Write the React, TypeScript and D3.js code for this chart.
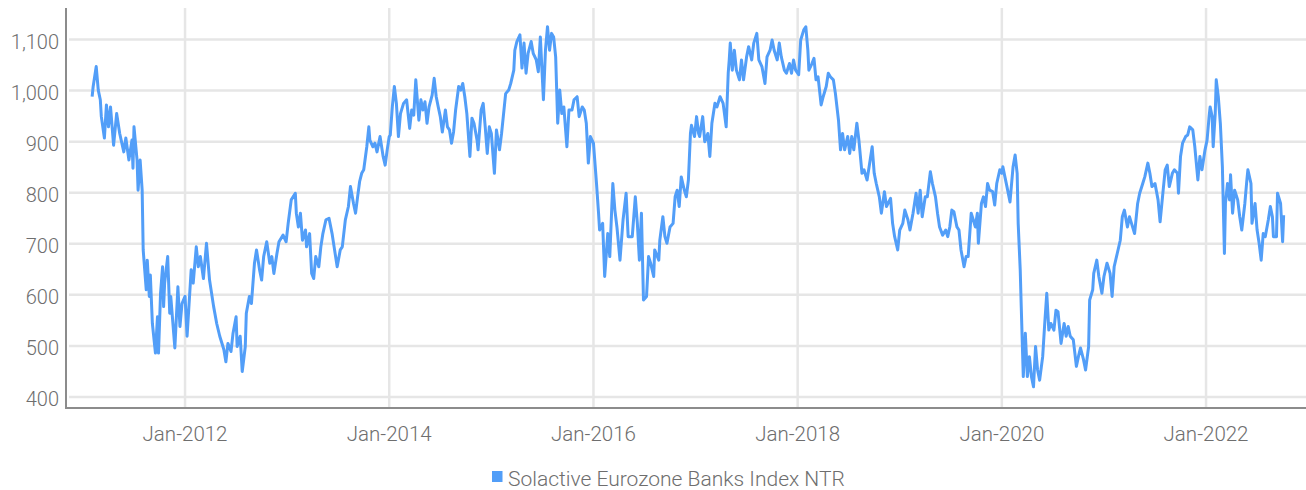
import React, { useRef, useEffect } from "react";
import * as d3 from "d3";

// [decimal year, index level]
const indexPoints: [number, number][] = [
  [2011.09, 988], [2011.10, 1008], [2011.13, 1047], [2011.15, 1001], [2011.17, 982], [2011.18, 949],
  [2011.21, 907], [2011.23, 972], [2011.25, 929], [2011.27, 968], [2011.30, 893], [2011.33, 955],
  [2011.36, 916], [2011.40, 880], [2011.42, 907], [2011.45, 864], [2011.48, 903], [2011.49, 848],
  [2011.50, 929], [2011.53, 864], [2011.54, 805], [2011.56, 864], [2011.58, 805], [2011.59, 688],
  [2011.62, 610], [2011.63, 668], [2011.65, 597], [2011.66, 639], [2011.68, 544], [2011.71, 486],
  [2011.73, 557], [2011.74, 486], [2011.76, 603], [2011.78, 655], [2011.79, 577], [2011.80, 623],
  [2011.83, 675], [2011.85, 564], [2011.86, 597], [2011.90, 496], [2011.93, 616], [2011.95, 538],
  [2011.97, 583], [2012.00, 597], [2012.02, 519], [2012.06, 649], [2012.08, 623], [2012.11, 694],
  [2012.13, 655], [2012.15, 675], [2012.18, 632], [2012.21, 701], [2012.24, 629], [2012.28, 577],
  [2012.31, 544], [2012.34, 519], [2012.38, 493], [2012.40, 469], [2012.42, 505], [2012.45, 489],
  [2012.47, 525], [2012.50, 557], [2012.51, 499], [2012.54, 519], [2012.56, 450], [2012.59, 499],
  [2012.60, 564], [2012.63, 597], [2012.65, 583], [2012.68, 662], [2012.70, 688], [2012.73, 649],
  [2012.75, 629], [2012.77, 675], [2012.80, 704], [2012.83, 662], [2012.85, 675], [2012.87, 642],
  [2012.90, 681], [2012.92, 704], [2012.96, 717], [2012.99, 704], [2013.01, 740], [2013.04, 786],
  [2013.08, 799], [2013.09, 760], [2013.11, 733], [2013.13, 760], [2013.15, 707], [2013.18, 727],
  [2013.19, 694], [2013.22, 720], [2013.24, 642], [2013.26, 632], [2013.28, 675], [2013.31, 655],
  [2013.33, 694], [2013.35, 720], [2013.38, 747], [2013.41, 750], [2013.44, 720], [2013.46, 694],
  [2013.49, 655], [2013.52, 688], [2013.54, 694], [2013.57, 747], [2013.60, 773], [2013.62, 812],
  [2013.65, 779], [2013.67, 760], [2013.69, 792], [2013.71, 822], [2013.73, 838], [2013.75, 845],
  [2013.78, 890], [2013.80, 929], [2013.81, 903], [2013.84, 890], [2013.86, 897], [2013.88, 880],
  [2013.91, 910], [2013.94, 871], [2013.96, 854], [2013.98, 884], [2014.00, 910], [2014.01, 913],
  [2014.03, 968], [2014.05, 1008], [2014.07, 975], [2014.09, 910], [2014.11, 955], [2014.14, 975],
  [2014.17, 982], [2014.20, 926], [2014.22, 962], [2014.24, 952], [2014.26, 1021], [2014.29, 942],
  [2014.31, 982], [2014.33, 962], [2014.35, 978], [2014.37, 936], [2014.39, 968], [2014.42, 991],
  [2014.44, 1024], [2014.46, 988], [2014.48, 968], [2014.50, 949], [2014.52, 919], [2014.55, 962],
  [2014.57, 929], [2014.59, 923], [2014.61, 897], [2014.63, 919], [2014.65, 962], [2014.68, 1008],
  [2014.70, 1001], [2014.72, 1014], [2014.74, 988], [2014.76, 955], [2014.79, 871], [2014.81, 946],
  [2014.83, 936], [2014.86, 903], [2014.87, 884], [2014.90, 962], [2014.92, 975], [2014.94, 929],
  [2014.96, 877], [2014.98, 929], [2015.00, 916], [2015.03, 838], [2015.05, 923], [2015.08, 884],
  [2015.10, 916], [2015.12, 955], [2015.14, 994], [2015.17, 1001], [2015.19, 1014], [2015.22, 1040],
  [2015.23, 1079], [2015.25, 1096], [2015.28, 1109], [2015.30, 1044], [2015.32, 1093], [2015.34, 1034],
  [2015.36, 1073], [2015.39, 1096], [2015.41, 1073], [2015.44, 1060], [2015.46, 1037], [2015.48, 1105],
  [2015.51, 982], [2015.53, 1079], [2015.55, 1125], [2015.57, 1079], [2015.59, 1112], [2015.61, 1105],
  [2015.63, 1066], [2015.65, 936], [2015.67, 1001], [2015.69, 955], [2015.71, 968], [2015.74, 890],
  [2015.76, 962], [2015.79, 962], [2015.81, 982], [2015.84, 988], [2015.86, 949], [2015.89, 968],
  [2015.91, 962], [2015.93, 936], [2015.95, 858], [2015.97, 910], [2016.00, 897], [2016.03, 818],
  [2016.05, 760], [2016.06, 727], [2016.09, 740], [2016.11, 636], [2016.14, 720], [2016.16, 675],
  [2016.18, 773], [2016.19, 818], [2016.21, 766], [2016.23, 733], [2016.26, 668], [2016.29, 747],
  [2016.32, 799], [2016.34, 714], [2016.38, 714], [2016.41, 792], [2016.43, 740], [2016.45, 668],
  [2016.47, 760], [2016.49, 590], [2016.52, 597], [2016.54, 675], [2016.56, 662], [2016.59, 636],
  [2016.60, 688], [2016.64, 668], [2016.65, 707], [2016.68, 753], [2016.70, 714], [2016.72, 701],
  [2016.75, 733], [2016.78, 740], [2016.80, 792], [2016.82, 805], [2016.84, 773], [2016.86, 831],
  [2016.89, 805], [2016.91, 792], [2016.93, 825], [2016.95, 916], [2016.96, 932], [2016.99, 910],
  [2017.01, 949], [2017.03, 916], [2017.04, 910], [2017.07, 949], [2017.09, 900], [2017.12, 916],
  [2017.14, 871], [2017.16, 936], [2017.19, 975], [2017.21, 968], [2017.24, 988], [2017.27, 975],
  [2017.30, 929], [2017.32, 1034], [2017.33, 1060], [2017.34, 1093], [2017.36, 1040], [2017.38, 1079],
  [2017.40, 1040], [2017.43, 1021], [2017.45, 1060], [2017.47, 1021], [2017.50, 1066], [2017.52, 1086],
  [2017.55, 1060], [2017.57, 1093], [2017.60, 1112], [2017.62, 1060], [2017.65, 1047], [2017.68, 1014],
  [2017.70, 1066], [2017.73, 1079], [2017.75, 1099], [2017.77, 1079], [2017.80, 1060], [2017.82, 1093],
  [2017.84, 1066], [2017.87, 1040], [2017.89, 1034], [2017.92, 1053], [2017.94, 1034], [2017.96, 1060],
  [2017.98, 1040], [2018.01, 1031], [2018.03, 1099], [2018.06, 1119], [2018.08, 1125], [2018.10, 1079],
  [2018.11, 1040], [2018.14, 1053], [2018.16, 1063], [2018.18, 1021], [2018.20, 1027], [2018.23, 972],
  [2018.25, 988], [2018.28, 1008], [2018.30, 1034], [2018.32, 1027], [2018.35, 1021], [2018.37, 994],
  [2018.40, 942], [2018.42, 884], [2018.44, 916], [2018.46, 884], [2018.49, 910], [2018.51, 877],
  [2018.53, 910], [2018.55, 884], [2018.58, 936], [2018.60, 903], [2018.63, 838], [2018.65, 845],
  [2018.68, 825], [2018.70, 851], [2018.73, 890], [2018.75, 838], [2018.77, 818], [2018.80, 792],
  [2018.82, 760], [2018.85, 802], [2018.87, 773], [2018.91, 789], [2018.93, 740], [2018.95, 714],
  [2018.98, 688], [2019.00, 727], [2019.03, 740], [2019.05, 766], [2019.08, 747], [2019.10, 727],
  [2019.13, 760], [2019.16, 799], [2019.18, 760], [2019.20, 805], [2019.22, 753], [2019.25, 792],
  [2019.27, 792], [2019.30, 841], [2019.32, 818], [2019.35, 792], [2019.37, 760], [2019.39, 733],
  [2019.42, 717], [2019.45, 727], [2019.47, 714], [2019.49, 733], [2019.51, 766], [2019.53, 763],
  [2019.56, 733], [2019.58, 727], [2019.60, 688], [2019.63, 655], [2019.65, 675], [2019.67, 675],
  [2019.70, 760], [2019.72, 747], [2019.74, 733], [2019.76, 760], [2019.77, 701], [2019.80, 779],
  [2019.82, 792], [2019.84, 773], [2019.86, 818], [2019.88, 805], [2019.91, 802], [2019.93, 776],
  [2019.95, 818], [2019.98, 845], [2020.00, 838], [2020.01, 851], [2020.03, 831], [2020.05, 812],
  [2020.08, 782], [2020.11, 851], [2020.13, 874], [2020.15, 838], [2020.16, 740], [2020.18, 649],
  [2020.19, 577], [2020.21, 440], [2020.23, 525], [2020.25, 440], [2020.27, 479], [2020.29, 440],
  [2020.31, 420], [2020.33, 499], [2020.35, 453], [2020.37, 433], [2020.40, 479], [2020.42, 544],
  [2020.44, 603], [2020.46, 531], [2020.48, 544], [2020.51, 531], [2020.53, 570], [2020.55, 567],
  [2020.58, 505], [2020.61, 544], [2020.63, 519], [2020.65, 538], [2020.67, 519], [2020.70, 512],
  [2020.73, 460], [2020.75, 479], [2020.77, 496], [2020.80, 473], [2020.82, 453], [2020.85, 499],
  [2020.86, 590], [2020.89, 610], [2020.90, 642], [2020.93, 668], [2020.95, 636], [2020.98, 603],
  [2021.00, 636], [2021.03, 662], [2021.06, 642], [2021.08, 597], [2021.10, 655], [2021.13, 681],
  [2021.16, 707], [2021.18, 753], [2021.20, 766], [2021.23, 733], [2021.25, 753], [2021.27, 740],
  [2021.30, 720], [2021.33, 779], [2021.35, 799], [2021.38, 818], [2021.40, 831], [2021.43, 858],
  [2021.45, 838], [2021.47, 812], [2021.50, 818], [2021.53, 786], [2021.55, 743], [2021.58, 805],
  [2021.60, 845], [2021.62, 854], [2021.64, 812], [2021.67, 838], [2021.69, 845], [2021.72, 838],
  [2021.73, 799], [2021.75, 871], [2021.77, 897], [2021.80, 910], [2021.82, 913], [2021.84, 929],
  [2021.87, 923], [2021.89, 890], [2021.92, 825], [2021.94, 871], [2021.96, 845], [2021.99, 884],
  [2022.01, 903], [2022.03, 949], [2022.04, 968], [2022.06, 949], [2022.07, 890], [2022.09, 955],
  [2022.10, 1021], [2022.12, 988], [2022.14, 936], [2022.16, 851], [2022.18, 681], [2022.19, 779],
  [2022.21, 818], [2022.23, 786], [2022.24, 835], [2022.26, 760], [2022.28, 805], [2022.31, 786],
  [2022.33, 753], [2022.35, 727], [2022.38, 779], [2022.40, 825], [2022.41, 845], [2022.44, 818],
  [2022.45, 740], [2022.48, 779], [2022.50, 727], [2022.52, 701], [2022.54, 668], [2022.56, 720],
  [2022.58, 714], [2022.61, 747], [2022.63, 773], [2022.65, 753], [2022.66, 714], [2022.69, 714],
  [2022.70, 799], [2022.73, 779], [2022.75, 704], [2022.76, 756],
];

const xTicks = [2012, 2014, 2016, 2018, 2020, 2022];
const yTicks = [400, 500, 600, 700, 800, 900, 1000, 1100];
const seriesName = "Solactive Eurozone Banks Index NTR";

const App = () => {
  const svgRef = useRef<SVGSVGElement>(null);

  useEffect(() => {
    const width = 1306;
    const height = 490;
    const left = 66;
    const right = 1306;
    const top = 8;
    const bottom = 408;
    const font = "Roboto, sans-serif";
    const textColor = "#6e6e6e";
    const lineColor = "#529ef8";

    const svg = d3.select(svgRef.current).attr("width", width).attr("height", height);
    svg.selectAll("*").remove();

    const x = d3.scaleLinear().domain([2010.834, 2022.979]).range([left, right]);
    const y = d3.scaleLinear().domain([378.5, 1161.7]).range([bottom, top]);

    // horizontal grid
    svg
      .append("g")
      .selectAll("line")
      .data(yTicks)
      .enter()
      .append("line")
      .attr("x1", left + 3)
      .attr("x2", right)
      .attr("y1", (d) => y(d))
      .attr("y2", (d) => y(d))
      .attr("stroke", "#e6e6e6")
      .attr("stroke-width", 2.5);

    // vertical grid
    svg
      .append("g")
      .selectAll("line")
      .data(xTicks)
      .enter()
      .append("line")
      .attr("x1", (d) => x(d))
      .attr("x2", (d) => x(d))
      .attr("y1", top)
      .attr("y2", bottom)
      .attr("stroke", "#e6e6e6")
      .attr("stroke-width", 2.5);

    // axis lines
    svg
      .append("line")
      .attr("x1", left)
      .attr("x2", left)
      .attr("y1", top)
      .attr("y2", bottom + 1)
      .attr("stroke", "#8c8c8c")
      .attr("stroke-width", 2);
    svg
      .append("line")
      .attr("x1", left)
      .attr("x2", right)
      .attr("y1", bottom)
      .attr("y2", bottom)
      .attr("stroke", "#8c8c8c")
      .attr("stroke-width", 2);

    // y labels
    svg
      .append("g")
      .selectAll("text")
      .data(yTicks)
      .enter()
      .append("text")
      .attr("x", 59)
      .attr("y", (d) => y(d) + 9)
      .attr("text-anchor", "end")
      .attr("font-family", font)
      .attr("font-weight", 300)
      .attr("font-size", 20)
      .attr("fill", textColor)
      .text((d) => d3.format(",")(d));

    // x labels
    svg
      .append("g")
      .selectAll("text")
      .data(xTicks)
      .enter()
      .append("text")
      .attr("x", (d) => x(d))
      .attr("y", 441)
      .attr("text-anchor", "middle")
      .attr("font-family", font)
      .attr("font-weight", 300)
      .attr("font-size", 20.5)
      .attr("fill", textColor)
      .text((d) => `Jan-${d}`);

    const line = d3
      .line<[number, number]>()
      .x((d) => x(d[0]))
      .y((d) => y(d[1]));

    svg
      .append("path")
      .datum(indexPoints)
      .attr("d", line)
      .attr("fill", "none")
      .attr("stroke", lineColor)
      .attr("stroke-width", 3)
      .attr("stroke-linejoin", "round");

    // legend
    const legend = svg.append("g");
    legend
      .append("rect")
      .attr("x", 492)
      .attr("y", 471)
      .attr("width", 10.5)
      .attr("height", 11)
      .attr("fill", lineColor);
    legend
      .append("text")
      .attr("x", 508)
      .attr("y", 486)
      .attr("font-family", font)
      .attr("font-weight", 300)
      .attr("font-size", 21)
      .attr("fill", textColor)
      .text(seriesName);
  }, []);

  return (
    <div>
      <svg ref={svgRef} style={{ display: "block", position: "absolute", left: 0, top: 0 }}></svg>
    </div>
  );
};

export default App;
